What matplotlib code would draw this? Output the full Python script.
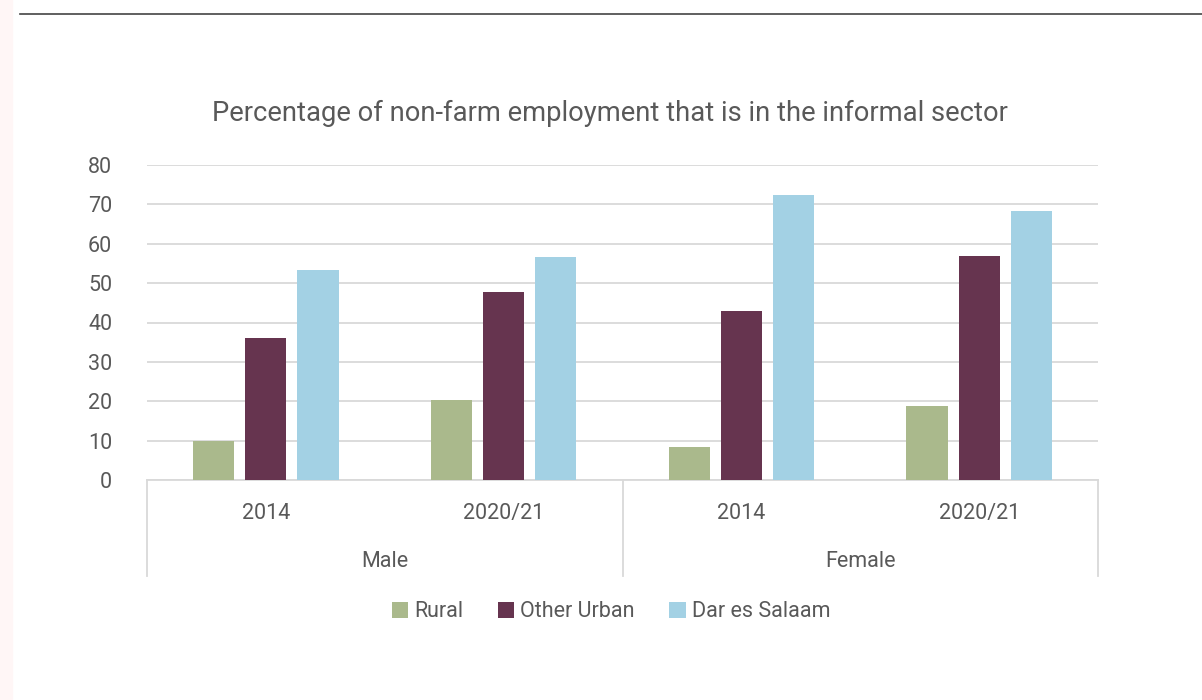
import matplotlib.pyplot as plt
import numpy as np

plt.rcParams['font.family'] = ['Roboto', 'DejaVu Sans']

# data
genders = ["Male", "Female"]
years = ["2014", "2020/21", "2014", "2020/21"]
series = ["Rural", "Other Urban", "Dar es Salaam"]
rural = [9.9, 20.3, 8.5, 18.9]
other_urban = [36.0, 47.7, 43.0, 57.0]
dar = [53.3, 56.6, 72.3, 68.3]
colors = ['#aab98c', '#66344f', '#a3d1e4']

txt = '#595959'
grid = '#d9d9d9'

fig = plt.figure(figsize=(12.02, 7.00), dpi=100)
ax = fig.add_axes([147/1202, 1-480/700, (1098-147)/1202, 315/700])

x = np.arange(len(years))
w = 0.173
off = 0.219
for i, (vals, name) in enumerate(zip([rural, other_urban, dar], series)):
    ax.bar(x + (i-1)*off, vals, width=w, color=colors[i], label=name, zorder=3)

ax.set_xlim(-0.5, len(years)-0.5)
ax.set_ylim(0, 80)
ax.set_yticks(range(0, 81, 10))
ax.yaxis.grid(True, color=grid, linewidth=1.3, zorder=0)
ax.tick_params(axis='y', length=0, labelsize=15.5, labelcolor=txt, pad=25)
ax.set_xticks([])
for s in ['top', 'right', 'left']:
    ax.spines[s].set_visible(False)
ax.spines['bottom'].set_color(grid)
ax.spines['bottom'].set_linewidth(1.3)

# year labels and gender labels
for xi, yr in zip(x, years):
    ax.text(xi, -8.6, yr, ha='center', va='center', fontsize=15.5, color=txt, clip_on=False)
for gi, g in enumerate(genders):
    ax.text(gi*2 + 0.5, -20.6, g, ha='center', va='center', fontsize=15.5, color=txt, clip_on=False)
for xb in [-0.5, 1.5, 3.5]:
    ax.plot([xb, xb], [0, -24.3], color=grid, linewidth=1.3, clip_on=False)

fig.text(610/1202, 1-113/700, "Percentage of non-farm employment that is in the informal sector",
         ha='center', va='center', fontsize=19.7, color=txt)

leg = ax.legend(loc='center', bbox_to_anchor=(0.488, -0.418), ncol=3, frameon=False,
                fontsize=15.5, handlelength=0.75, handleheight=0.75, handletextpad=0.3,
                columnspacing=1.6)
for t in leg.get_texts():
    t.set_color(txt)

# page decorations
fig.patches.append(plt.Rectangle((0, 0), 12/1202, 1, transform=fig.transFigure,
                                 color='#fff6f6', zorder=0))
fig.lines.append(plt.Line2D([20/1202, 1], [1-14/700, 1-14/700], transform=fig.transFigure,
                            color='#444444', linewidth=1.2))

fig.savefig('out.png', dpi=100)
